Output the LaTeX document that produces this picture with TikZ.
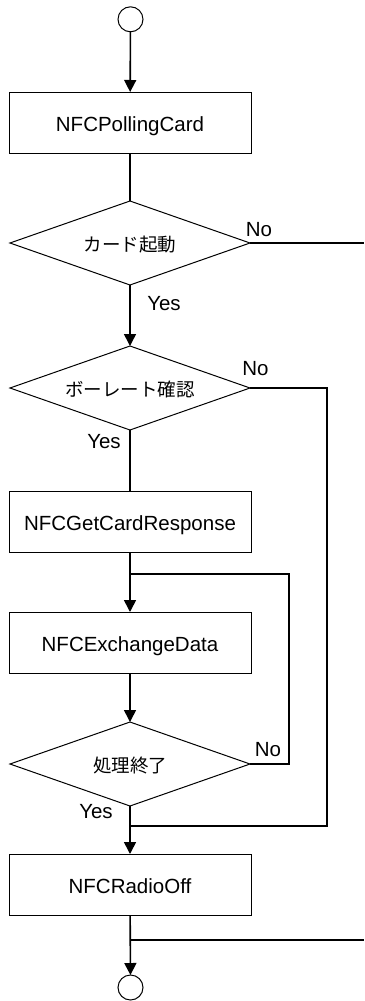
\documentclass[tikz,border=0pt]{standalone}
\usepackage{fontspec}
\setmainfont{Liberation Sans}
\newfontfamily\jpfont{Noto Sans CJK JP}
\usetikzlibrary{shapes.geometric,arrows.meta}

\begin{document}
\begin{tikzpicture}[x=1pt,y=1pt,
  box/.style={draw, line width=1pt, minimum width=242pt, minimum height=61pt,
    inner sep=0pt, outer sep=0pt, font=\fontsize{20.5}{24}\selectfont,
    text height=20pt, text depth=3pt},
  dec/.style={draw, diamond, line width=1pt, minimum width=240pt, minimum height=84pt,
    aspect=2.857, inner sep=0pt, outer sep=0pt, font=\fontsize{18.5}{22}\jpfont,
    text height=20pt, text depth=3pt},
  term/.style={draw, circle, line width=1pt, minimum size=25pt, inner sep=0pt, outer sep=0pt},
  flow/.style={line width=1.6pt},
  arr/.style={flow, -{Triangle[width=12pt,length=12pt]}},
  lbl/.style={font=\fontsize{20.5}{24}\selectfont, inner sep=0pt}
]
\useasboundingbox (0,0) rectangle (364,-1001);

% terminals, processes and decisions
\node[term] (start) at (130.5,-19.3) {};
\node[box]  (poll)  at (130,-122.5) {NFCPollingCard};
\node[dec]  (card)  at (130,-243)   {カード起動};
\node[dec]  (baud)  at (130,-388)   {ボーレート確認};
\node[box]  (resp)  at (130,-522)   {NFCGetCardResponse};
\node[box]  (xchg)  at (130,-642.5) {NFCExchangeData};
\node[dec]  (done)  at (130,-764)   {処理終了};
\node[box]  (off)   at (130,-884.5) {NFCRadioOff};
\node[term] (stop)  at (130.5,-987.5) {};

% junction points and route guides
\coordinate (loop)  at (130,-574);
\coordinate (merge) at (130,-826);
\coordinate (exit)  at (130,-940);
\coordinate (rxA)   at (289,0);
\coordinate (rxB)   at (327,0);
\coordinate (edgeA) at (364,-243);
\coordinate (edgeB) at (364,-940);

% main flow
\draw[arr]  (start) -- (poll);
\draw[flow] (poll) -- (card);
\draw[arr]  (card) -- (baud);
\draw[flow] (baud) -- (resp);
\draw[arr]  (resp) -- (xchg);
\draw[arr]  (xchg) -- (done);
\draw[arr]  (done) -- (off);
\draw[arr]  (off) -- (stop);

% branches
\draw[flow] (card.east) -- (edgeA);
\draw[flow] (baud.east) -| (rxB |- merge) -- (merge);
\draw[flow] (done.east) -| (rxA |- loop) -- (loop);
\draw[flow] (exit) -- (edgeB);

% branch labels
\node[lbl] at ([xshift=9pt,yshift=13pt]card.east) {No};
\node[lbl] at ([xshift=34pt,yshift=-18.5pt]card.south) {Yes};
\node[lbl] at ([xshift=5.5pt,yshift=19.5pt]baud.east) {No};
\node[lbl] at ([xshift=-26pt,yshift=-11.5pt]baud.south) {Yes};
\node[lbl] at ([xshift=18pt,yshift=14pt]done.east) {No};
\node[lbl] at ([xshift=-34pt,yshift=-5.5pt]done.south) {Yes};
\end{tikzpicture}
\end{document}
